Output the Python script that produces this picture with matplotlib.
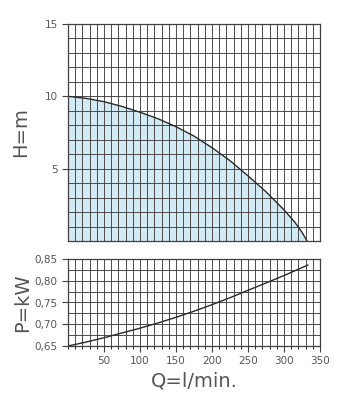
"""Pump curve: head H and power P against flow Q."""

import matplotlib

matplotlib.use("Agg")
import matplotlib.pyplot as plt
from matplotlib.ticker import FixedLocator, FuncFormatter, MultipleLocator

# flow rate (l/min) and head (m)
q_head = [0, 25, 50, 75, 100, 125, 150, 175, 200, 225, 250, 275, 300, 315, 325, 332]
head = [10.0, 9.86, 9.63, 9.3, 8.9, 8.45, 7.9, 7.25, 6.45, 5.55, 4.5, 3.4, 2.15, 1.3, 0.6, 0.0]

# flow rate (l/min) and absorbed power (kW)
q_power = [0, 25, 50, 75, 100, 125, 150, 175, 200, 225, 250, 275, 300, 333]
power = [0.65, 0.659, 0.669, 0.68, 0.691, 0.703, 0.716, 0.73, 0.745, 0.761,
         0.778, 0.795, 0.812, 0.836]

h_ticks = [5, 10, 15]
p_ticks = [0.65, 0.70, 0.75, 0.80, 0.85]
q_ticks = [50, 100, 150, 200, 250, 300, 350]

text_c = "#555555"
grid_c = "#404040"
line_c = "#2a2a2a"

plt.rcParams["font.family"] = ["DejaVu Sans"]

fig = plt.figure(figsize=(3.6, 4.0), dpi=100)
ax_h = fig.add_axes([0.189, 0.3975, 0.7, 0.5425])
ax_p = fig.add_axes([0.189, 0.135, 0.7, 0.2175])

for ax in (ax_h, ax_p):
    ax.set_xlim(0, 350)
    ax.xaxis.set_minor_locator(MultipleLocator(10))
    ax.grid(which="both", color=grid_c, lw=0.65)
    ax.set_axisbelow(True)
    for s in ax.spines.values():
        s.set_color(grid_c)
        s.set_linewidth(0.9)
    ax.tick_params(colors=grid_c, labelcolor=text_c, labelsize=7.5, width=0.8)

# head panel
ax_h.fill_between(q_head, head, 0, color="#d2eaf4", lw=0, zorder=0.5)
ax_h.plot(q_head, head, color=line_c, lw=1.0)
ax_h.set_ylim(0, 15)
ax_h.yaxis.set_major_locator(FixedLocator(h_ticks))
ax_h.yaxis.set_minor_locator(MultipleLocator(1))
ax_h.tick_params(axis="y", which="major", length=4)
ax_h.tick_params(axis="y", which="minor", length=0)
ax_h.tick_params(axis="x", which="both", length=0, labelbottom=False)
ax_h.set_ylabel("H=m", fontsize=14, color=text_c, labelpad=10)

# power panel
ax_p.plot(q_power, power, color=line_c, lw=1.0)
ax_p.set_ylim(0.65, 0.85)
ax_p.yaxis.set_major_locator(FixedLocator(p_ticks))
ax_p.yaxis.set_minor_locator(MultipleLocator(0.025))
ax_p.yaxis.set_major_formatter(FuncFormatter(lambda v, _: f"{v:.2f}".replace(".", ",")))
ax_p.xaxis.set_major_locator(FixedLocator(q_ticks))
ax_p.tick_params(axis="y", which="major", length=4)
ax_p.tick_params(axis="y", which="minor", length=0)
ax_p.tick_params(axis="x", which="major", length=4)
ax_p.tick_params(axis="x", which="minor", length=2.5)
ax_p.set_ylabel("P=kW", fontsize=14, color=text_c, labelpad=2)
ax_p.set_xlabel("Q=l/min.", fontsize=14, color=text_c, labelpad=4)

fig.savefig("out.png", dpi=100, facecolor="white")
plt.close(fig)
